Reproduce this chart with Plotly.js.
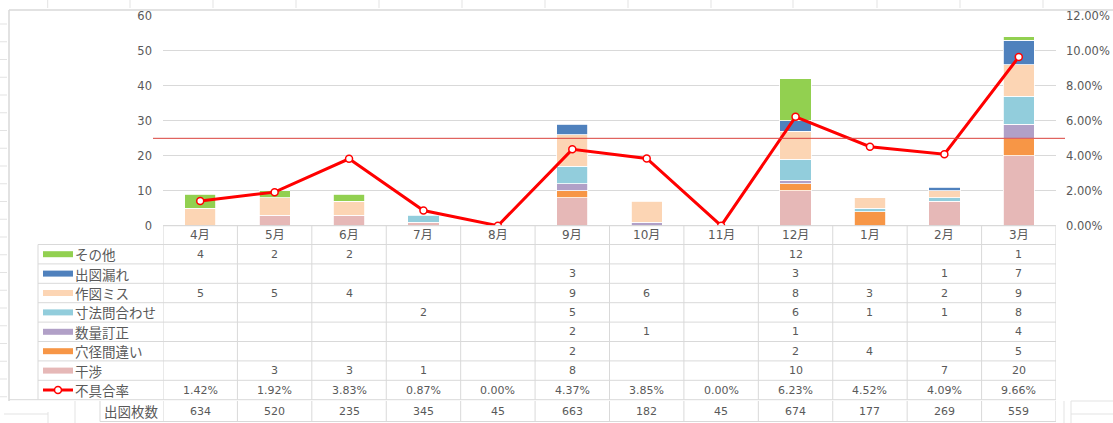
<!DOCTYPE html>
<html><head><meta charset="utf-8">
<script src="https://cdn.plot.ly/plotly-3.0.1.min.js"></script>
<style>html,body{margin:0;padding:0;background:#fff;}#chart{width:1113px;height:423px;}</style>
</head><body><div id="chart"></div>
<script>
// ---- data ----
const months = ['4月','5月','6月','7月','8月','9月','10月','11月','12月','1月','2月','3月'];
const sonota       = [4, 2, 2, null, null, null, null, null, 12, null, null, 1];   // その他
const shutsuzuMore = [null, null, null, null, null, 3, null, null, 3, null, 1, 7]; // 出図漏れ
const sakuzuMiss   = [5, 5, 4, null, null, 9, 6, null, 8, 3, 2, 9];               // 作図ミス
const sunpouToi    = [null, null, null, 2, null, 5, null, null, 6, 1, 1, 8];      // 寸法問合わせ
const suuryouTeisei= [null, null, null, null, null, 2, 1, null, 1, null, null, 4];// 数量訂正
const anakeiMachi  = [null, null, null, null, null, 2, null, null, 2, 4, null, 5];// 穴径間違い
const kanshou      = [null, 3, 3, 1, null, 8, null, null, 10, null, 7, 20];       // 干渉
const defectRate   = [0.0142, 0.0192, 0.0383, 0.0087, 0.0000, 0.0437, 0.0385, 0.0000, 0.0623, 0.0452, 0.0409, 0.0966];
const sheetCount   = [634, 520, 235, 345, 45, 663, 182, 45, 674, 177, 269, 559];   // 出図枚数
const thresholdCount = 25;
const rateLabel = '不具合率';
const sheetLabel = '出図枚数';

// table order (top -> bottom)
const seriesList = [
  {name: 'その他', values: sonota, color: '#92d050'},
  {name: '出図漏れ', values: shutsuzuMore, color: '#4f81bd'},
  {name: '作図ミス', values: sakuzuMiss, color: '#fcd5b4'},
  {name: '寸法問合わせ', values: sunpouToi, color: '#92cddc'},
  {name: '数量訂正', values: suuryouTeisei, color: '#b1a0c7'},
  {name: '穴径間違い', values: anakeiMachi, color: '#f79646'},
  {name: '干渉', values: kanshou, color: '#e6b8b7'}
];

// ---- layout helpers (pixel -> paper) ----
const W = 1113, H = 423;
const px = v => v / W;
const py = v => 1 - v / H;
const plotL = 163, plotR = 1056, plotT = 16, plotB = 225.7;
const textColor = '#595959';
const gridColor = '#d9d9d9';
const numFont = 'DejaVu Sans, Noto Sans CJK JP, sans-serif';
const jpFont = 'Noto Sans CJK JP, sans-serif';

const headerTop = plotB, rowTop = 244.5, rowH = 19.4;
const nRows = seriesList.length + 1;
const tableBottom = rowTop + nRows * rowH;
const sheetTop = 401, sheetBottom = 421.5;

// ---- traces ----
const traces = [];
seriesList.slice().reverse().forEach(s => {
  traces.push({
    type: 'bar', name: s.name, x: months, y: s.values,
    marker: {color: s.color, line: {color: '#ffffff', width: 0.8}},
    yaxis: 'y', hoverinfo: 'skip'
  });
});
traces.push({
  type: 'scatter', mode: 'lines+markers', name: rateLabel,
  x: months, y: defectRate, yaxis: 'y2',
  line: {color: '#ff0000', width: 3},
  marker: {symbol: 'circle', size: 7, color: '#ffffff', line: {color: '#ff0000', width: 1.5}},
  hoverinfo: 'skip'
});

// ---- shapes ----
const shapes = [];
const lineStyle = {color: gridColor, width: 1};
// threshold line
shapes.push({type: 'line', xref: 'paper', yref: 'y', x0: px(153), x1: px(1065), y0: thresholdCount, y1: thresholdCount,
  line: {color: '#d9423c', width: 1}});
// chart border
shapes.push({type: 'line', xref: 'paper', yref: 'paper', x0: px(9), x1: 1, y0: py(10), y1: py(10), line: {color: '#d9d9d9', width: 1.5}});
shapes.push({type: 'line', xref: 'paper', yref: 'paper', x0: px(9), x1: px(9), y0: py(10), y1: py(sheetTop), line: {color: '#d9d9d9', width: 1.5}});
// x axis line / header top
shapes.push({type: 'line', xref: 'x', yref: 'paper', x0: -0.499, x1: months.length - 0.501, y0: py(headerTop), y1: py(headerTop), line: {color: '#d0d0d0', width: 1}});
// column boundaries through header + table
for (let i = 0; i <= months.length; i++) {
  let xv = i - 0.5;
  if (i === 0) xv = -0.499;
  if (i === months.length) xv = months.length - 0.501;
  shapes.push({type: 'line', xref: 'x', yref: 'paper', x0: xv, x1: xv, y0: py(headerTop), y1: py(tableBottom), line: lineStyle});
  shapes.push({type: 'line', xref: 'x', yref: 'paper', x0: xv, x1: xv, y0: py(sheetTop), y1: py(sheetBottom), line: lineStyle});
}
// legend column left border
shapes.push({type: 'line', xref: 'paper', yref: 'paper', x0: px(38), x1: px(38), y0: py(rowTop), y1: py(tableBottom), line: lineStyle});
// row boundaries
for (let r = 0; r <= nRows; r++) {
  const yy = rowTop + r * rowH;
  shapes.push({type: 'line', xref: 'paper', yref: 'paper', x0: r === nRows ? px(9) : px(38), x1: px(plotR), y0: py(yy), y1: py(yy), line: lineStyle});
}
// 出図枚数 row
shapes.push({type: 'line', xref: 'paper', yref: 'paper', x0: px(100), x1: px(100), y0: py(sheetTop), y1: py(sheetBottom), line: lineStyle});
shapes.push({type: 'line', xref: 'paper', yref: 'paper', x0: px(100), x1: px(plotR), y0: py(sheetBottom), y1: py(sheetBottom), line: lineStyle});
// spreadsheet background grid remnants
const faint = {color: '#e3e3e3', width: 1};
[47.7, 130, 213, 296, 379, 462, 545, 628, 711, 793, 877, 960, 1043].forEach(x =>
  shapes.push({type: 'line', xref: 'paper', yref: 'paper', x0: px(x), x1: px(x), y0: 1, y1: py(8), line: faint}));
for (let y = 24; y < 400; y += 17.75) {
  shapes.push({type: 'line', xref: 'paper', yref: 'paper', x0: 0, x1: px(7), y0: py(y), y1: py(y), line: faint});
}
shapes.push({type: 'line', xref: 'paper', yref: 'paper', x0: px(4), x1: px(48), y0: py(414), y1: py(414), line: faint});
shapes.push({type: 'line', xref: 'paper', yref: 'paper', x0: px(48), x1: px(48), y0: py(412), y1: 0, line: faint});
shapes.push({type: 'line', xref: 'paper', yref: 'paper', x0: px(75), x1: px(75), y0: py(sheetTop), y1: 0, line: faint});
shapes.push({type: 'line', xref: 'paper', yref: 'paper', x0: px(1064), x1: px(1064), y0: py(sheetTop), y1: 0, line: faint});
shapes.push({type: 'line', xref: 'paper', yref: 'paper', x0: px(1071), x1: px(1071), y0: py(sheetTop), y1: 0, line: faint});
shapes.push({type: 'line', xref: 'paper', yref: 'paper', x0: px(1071), x1: 1, y0: py(sheetTop), y1: py(sheetTop), line: faint});
shapes.push({type: 'line', xref: 'paper', yref: 'paper', x0: px(1071), x1: 1, y0: py(414), y1: py(414), line: faint});

// legend swatches
seriesList.forEach((s, r) => {
  const cy = rowTop + (r + 0.5) * rowH;
  shapes.push({type: 'rect', xref: 'paper', yref: 'paper', x0: px(43), x1: px(73), y0: py(cy - 3), y1: py(cy + 3),
    fillcolor: s.color, line: {width: 0}});
});
{
  const cy = rowTop + (seriesList.length + 0.5) * rowH;
  shapes.push({type: 'line', xref: 'paper', yref: 'paper', x0: px(43), x1: px(73), y0: py(cy), y1: py(cy), line: {color: '#ff0000', width: 3}});
  shapes.push({type: 'circle', xref: 'paper', yref: 'paper', x0: px(54.5), x1: px(61.5), y0: py(cy + 3.5), y1: py(cy - 3.5),
    fillcolor: '#ffffff', line: {color: '#ff0000', width: 1.5}});
}

// ---- annotations (table text) ----
const annotations = [];
const ann = (o) => Object.assign({showarrow: false, yanchor: 'middle', borderpad: 0}, o);
months.forEach((m, i) => {
  annotations.push(ann({xref: 'x', yref: 'paper', x: m, y: py((headerTop + rowTop) / 2), text: m,
    font: {family: numFont, size: 12, color: textColor}, xanchor: 'center'}));
});
seriesList.forEach((s, r) => {
  const cy = rowTop + (r + 0.5) * rowH;
  annotations.push(ann({xref: 'paper', yref: 'paper', x: px(74), y: py(cy), text: s.name, xanchor: 'left',
    font: {family: jpFont, size: 13.5, color: textColor}}));
  s.values.forEach((v, i) => {
    if (v === null) return;
    annotations.push(ann({xref: 'x', yref: 'paper', x: months[i], y: py(cy), text: String(v), xanchor: 'center',
      font: {family: numFont, size: 11, color: textColor}}));
  });
});
{
  const cy = rowTop + (seriesList.length + 0.5) * rowH;
  annotations.push(ann({xref: 'paper', yref: 'paper', x: px(74), y: py(cy), text: rateLabel, xanchor: 'left',
    font: {family: jpFont, size: 13.5, color: textColor}}));
  defectRate.forEach((v, i) => {
    annotations.push(ann({xref: 'x', yref: 'paper', x: months[i], y: py(cy), text: (v * 100).toFixed(2) + '%', xanchor: 'center',
      font: {family: numFont, size: 11, color: textColor}}));
  });
}
{
  const cy = (sheetTop + sheetBottom) / 2;
  annotations.push(ann({xref: 'paper', yref: 'paper', x: px(131), y: py(cy), text: sheetLabel, xanchor: 'center',
    font: {family: jpFont, size: 13.5, color: textColor}}));
  sheetCount.forEach((v, i) => {
    annotations.push(ann({xref: 'x', yref: 'paper', x: months[i], y: py(cy), text: String(v), xanchor: 'center',
      font: {family: numFont, size: 11, color: textColor}}));
  });
}

const layout = {
  width: W, height: H,
  margin: {l: 0, r: 0, t: 0, b: 0, pad: 0},
  paper_bgcolor: '#ffffff', plot_bgcolor: 'rgba(0,0,0,0)',
  showlegend: false,
  barmode: 'stack', bargap: 0.58,
  xaxis: {domain: [px(plotL), px(plotR)], type: 'category', range: [-0.5, months.length - 0.5],
    showticklabels: false, showgrid: false, zeroline: false, showline: false, ticks: '', fixedrange: true},
  yaxis: {domain: [py(plotB), py(plotT)], range: [0, 60], dtick: 10, showgrid: true, gridcolor: gridColor, gridwidth: 1,
    zeroline: false, showline: false, ticks: '', ticklabelstandoff: 10,
    tickfont: {family: numFont, size: 11.5, color: textColor}},
  yaxis2: {overlaying: 'y', side: 'right', range: [0, 0.12], dtick: 0.02, tickformat: '.2%', showgrid: false,
    zeroline: false, showline: false, ticks: '', ticklabelstandoff: 9,
    tickfont: {family: numFont, size: 11.5, color: textColor}},
  shapes: shapes,
  annotations: annotations
};

Plotly.newPlot('chart', traces, layout, {staticPlot: true, displayModeBar: false});
</script>
</body></html>
